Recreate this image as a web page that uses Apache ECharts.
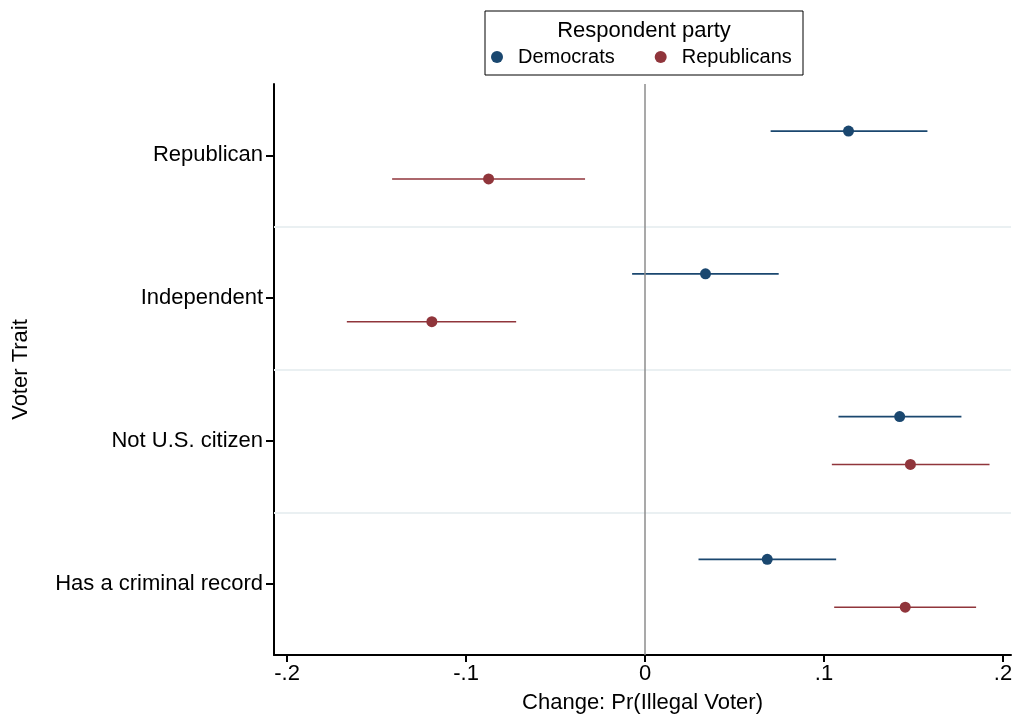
<!DOCTYPE html>
<html>
<head>
<meta charset="utf-8">
<script src="https://cdn.jsdelivr.net/npm/echarts@6/dist/echarts.min.js"></script>
<style>html,body{margin:0;padding:0;background:#fff;overflow:hidden}#c{width:1013px;height:715px}</style>
</head>
<body>
<div id="c"></div>
<script>
const categories = ['Republican', 'Independent', 'Not U.S. citizen', 'Has a criminal record'];
const demEst = [0.1137, 0.0338, 0.1423, 0.0683];
const demLo  = [0.0702, -0.0072, 0.1081, 0.0299];
const demHi  = [0.1578, 0.0747, 0.1768, 0.1068];
const repEst = [-0.0874, -0.1191, 0.1483, 0.1454];
const repLo  = [-0.1413, -0.1666, 0.1044, 0.1057];
const repHi  = [-0.0335, -0.0720, 0.1925, 0.1850];
const xTicks = [-0.2, -0.1, 0, 0.1, 0.2];
const xTickLabels = ['-.2', '-.1', '0', '.1', '.2'];
const separators = [1.5, 2.5, 3.5];

const DEM = '#1a476f', REP = '#90353b';
const FONT = 'Liberation Sans, Arial, sans-serif';
const demOff = -0.17, repOff = 0.165;

function pts(est, off) { return est.map((v, i) => [v, i + 1 + off]); }
function bars(lo, hi, off) { return lo.map((v, i) => [v, hi[i], i + 1 + off]); }

function errRender(color) {
  return function (params, api) {
    const p1 = api.coord([api.value(0), api.value(2)]);
    const p2 = api.coord([api.value(1), api.value(2)]);
    return { type: 'line', shape: { x1: p1[0], y1: p1[1], x2: p2[0], y2: p2[1] },
             style: { stroke: color, lineWidth: 1.6 } };
  };
}

const chart = echarts.init(document.getElementById('c'), null, { renderer: 'canvas' });
chart.setOption({
  animation: false,
  textStyle: { fontFamily: FONT },
  grid: { left: 274, right: 2, top: 84, bottom: 60, containLabel: false, outerBoundsMode: 'none' },
  graphic: [
    { type: 'rect', x: 485, y: 11, shape: { x: 0, y: 0, width: 318, height: 64 },
      style: { fill: '#fff', stroke: '#000', lineWidth: 1 }, z: 0 },
    { type: 'text', x: 644, y: 31,
      style: { text: 'Respondent party', font: '22px ' + FONT, fill: '#000', textAlign: 'center', textVerticalAlign: 'middle' }, z: 10 }
  ],
  legend: {
    left: 486, top: 42, itemGap: 40, itemWidth: 12, itemHeight: 12,
    icon: 'circle', z: 10,
    textStyle: { fontSize: 20, color: '#000', fontFamily: FONT, padding: [0, 0, 0, 10] },
    data: ['Democrats', 'Republicans']
  },
  xAxis: {
    type: 'value', min: -0.2073, max: 0.2045,
    name: 'Change: Pr(Illegal Voter)', nameLocation: 'middle', nameGap: 37,
    nameTextStyle: { fontSize: 22, color: '#000', fontFamily: FONT },
    axisLine: { show: true, onZero: false, lineStyle: { color: '#000', width: 2 } },
    axisTick: { show: true, length: 7, lineStyle: { color: '#000', width: 2 }, customValues: xTicks },
    axisLabel: { fontSize: 22, color: '#000', fontFamily: FONT, margin: 8, customValues: xTicks,
      formatter: v => { const i = xTicks.findIndex(t => Math.abs(t - v) < 1e-9); return i >= 0 ? xTickLabels[i] : ''; } },
    splitLine: { show: false }
  },
  yAxis: {
    type: 'value', min: 0.5, max: 4.5, inverse: true,
    name: 'Voter Trait', nameLocation: 'middle', nameGap: 242, nameRotate: 90,
    nameTextStyle: { fontSize: 22, color: '#000', fontFamily: FONT },
    axisLine: { show: true, onZero: false, lineStyle: { color: '#000', width: 2 } },
    axisTick: { show: true, length: 8, lineStyle: { color: '#000', width: 2 }, customValues: [1, 2, 3, 4] },
    axisLabel: { fontSize: 22, color: '#000', fontFamily: FONT, margin: 11, customValues: [1, 2, 3, 4],
      formatter: v => categories[Math.round(v) - 1] || '' },
    splitLine: { show: false }
  },
  series: [
    { name: 'sep', type: 'line', data: [], silent: true,
      markLine: { symbol: 'none', silent: true, label: { show: false },
        lineStyle: { color: '#eaf0f2', width: 2, type: 'solid' },
        data: separators.map(s => ({ yAxis: s })) } },
    { name: 'zero', type: 'line', data: [], silent: true,
      markLine: { symbol: 'none', silent: true, label: { show: false },
        lineStyle: { color: '#8c8c8c', width: 1.5, type: 'solid' },
        data: [{ xAxis: 0 }] } },
    { name: 'demErr', type: 'custom', renderItem: errRender(DEM), data: bars(demLo, demHi, demOff),
      encode: { x: [0, 1], y: 2 }, z: 3, silent: true },
    { name: 'repErr', type: 'custom', renderItem: errRender(REP), data: bars(repLo, repHi, repOff),
      encode: { x: [0, 1], y: 2 }, z: 3, silent: true },
    { name: 'Democrats', type: 'scatter', data: pts(demEst, demOff), symbol: 'circle', symbolSize: 11,
      itemStyle: { color: DEM, opacity: 1 }, z: 5 },
    { name: 'Republicans', type: 'scatter', data: pts(repEst, repOff), symbol: 'circle', symbolSize: 11,
      itemStyle: { color: REP, opacity: 1 }, z: 5 }
  ]
});
</script>
</body>
</html>
